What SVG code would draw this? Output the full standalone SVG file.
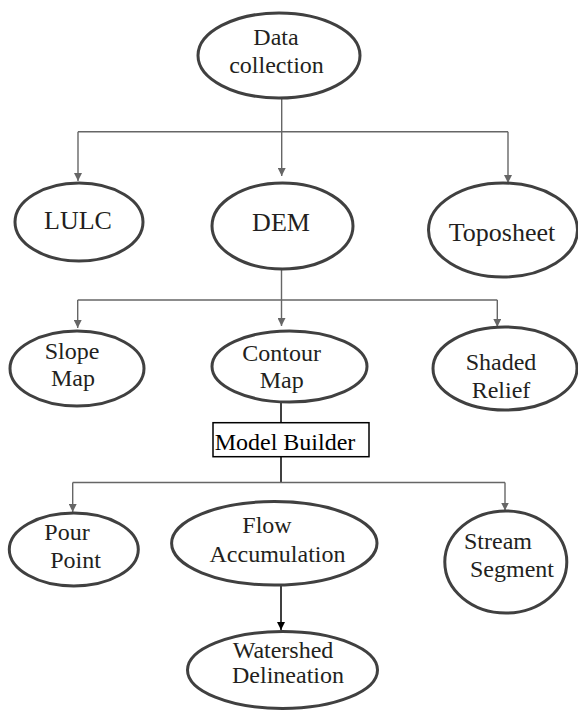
<svg xmlns="http://www.w3.org/2000/svg" width="578" height="710" viewBox="0 0 578 710">
<style>
.n{fill:#fff;stroke:#404040;stroke-width:3}
text{font-family:'Liberation Serif',Tinos,'Times New Roman','Nimbus Roman','DejaVu Serif',serif;fill:#231f20;text-anchor:middle}
.s24{font-size:24px}
.s26{font-size:26px}
.g{stroke:#666;stroke-width:1.4;fill:none}
.k{stroke:#000;stroke-width:1.5;fill:none}
.ga{marker-end:url(#ag)}
.ka{marker-end:url(#ak)}
</style>
<defs>
<marker id="ag" markerUnits="userSpaceOnUse" markerWidth="8" markerHeight="8" refX="8" refY="4" orient="auto"><path d="M0,0 L8,4 L0,8 z" fill="#666"/></marker>
<marker id="ak" markerUnits="userSpaceOnUse" markerWidth="8" markerHeight="8" refX="8" refY="4" orient="auto"><path d="M0,0 L8,4 L0,8 z" fill="#000"/></marker>
</defs>
<g id="connectors">
<line class="g" x1="281.7" y1="98" x2="281.7" y2="131.7"/>
<line class="g" x1="78" y1="131.7" x2="508" y2="131.7"/>
<line class="g ga" x1="78" y1="131.7" x2="78" y2="181"/>
<line class="g ga" x1="281.7" y1="131.7" x2="281.7" y2="176"/>
<line class="g ga" x1="508" y1="131.7" x2="508" y2="183"/>
<line class="g" x1="281.5" y1="269" x2="281.5" y2="300"/>
<line class="g" x1="77.7" y1="300" x2="497.3" y2="300"/>
<line class="g ga" x1="77.7" y1="300" x2="77.7" y2="328"/>
<line class="g ga" x1="281.5" y1="300" x2="281.5" y2="326"/>
<line class="g ga" x1="497.3" y1="300" x2="497.3" y2="327"/>
<line class="k" x1="281" y1="402" x2="281" y2="422.7"/>
<line class="k" x1="281" y1="456.7" x2="281" y2="482.5"/>
<line class="g" x1="72.7" y1="482.5" x2="505" y2="482.5"/>
<line class="g ga" x1="72.7" y1="482.5" x2="72.7" y2="512"/>
<line class="g ga" x1="505" y1="482.5" x2="505" y2="510.5"/>
<line class="k ka" x1="281" y1="585" x2="281" y2="630"/>
</g>
<g id="data-collection">
<ellipse class="n" cx="279" cy="55.5" rx="81" ry="42.5"/>
<text class="s24" x="276" y="45">Data</text>
<text class="s24" x="276.5" y="72.7">collection</text>
</g>
<g id="lulc">
<ellipse class="n" cx="79" cy="222" rx="64" ry="39"/>
<text class="s26" x="78" y="229">LULC</text>
</g>
<g id="dem">
<ellipse class="n" cx="282.5" cy="226" rx="70.5" ry="43"/>
<text class="s26" x="281" y="231">DEM</text>
</g>
<g id="toposheet">
<ellipse class="n" cx="503" cy="230" rx="74.5" ry="47"/>
<text class="s26" x="502" y="241">Toposheet</text>
</g>
<g id="slope-map">
<ellipse class="n" cx="77" cy="368.5" rx="67" ry="37.5"/>
<text class="s24" x="72" y="359">Slope</text>
<text class="s24" x="73" y="386">Map</text>
</g>
<g id="contour-map">
<ellipse class="n" cx="289.5" cy="366.5" rx="77.5" ry="35.5"/>
<text class="s24" x="281.7" y="361">Contour</text>
<text class="s24" x="281.7" y="388">Map</text>
</g>
<g id="shaded-relief">
<ellipse class="n" cx="505" cy="368.5" rx="72" ry="41.5"/>
<text class="s24" x="501" y="370">Shaded</text>
<text class="s24" x="501" y="398">Relief</text>
</g>
<g id="model-builder">
<rect x="213" y="422.7" width="156" height="34" fill="#fff" stroke="#000" stroke-width="1.5"/>
<text class="s24" x="285" y="450" style="fill:#000">Model Builder</text>
</g>
<g id="pour-point">
<ellipse class="n" cx="73.8" cy="549.5" rx="64.5" ry="36.5"/>
<text class="s24" x="67" y="540">Pour</text>
<text class="s24" x="75.5" y="568">Point</text>
</g>
<g id="flow-accumulation">
<ellipse class="n" cx="274.3" cy="543.3" rx="102.7" ry="41.7"/>
<text class="s24" x="267" y="533">Flow</text>
<text class="s24" x="277.5" y="561.7">Accumulation</text>
</g>
<g id="stream-segment">
<ellipse class="n" cx="505.8" cy="562" rx="61" ry="51"/>
<text class="s24" x="498" y="549">Stream</text>
<text class="s24" x="512" y="576.7">Segment</text>
</g>
<g id="watershed-delineation">
<ellipse class="n" cx="282.5" cy="670" rx="95" ry="38.5"/>
<text class="s24" x="283" y="658">Watershed</text>
<text class="s24" x="288" y="683">Delineation</text>
</g>
</svg>
